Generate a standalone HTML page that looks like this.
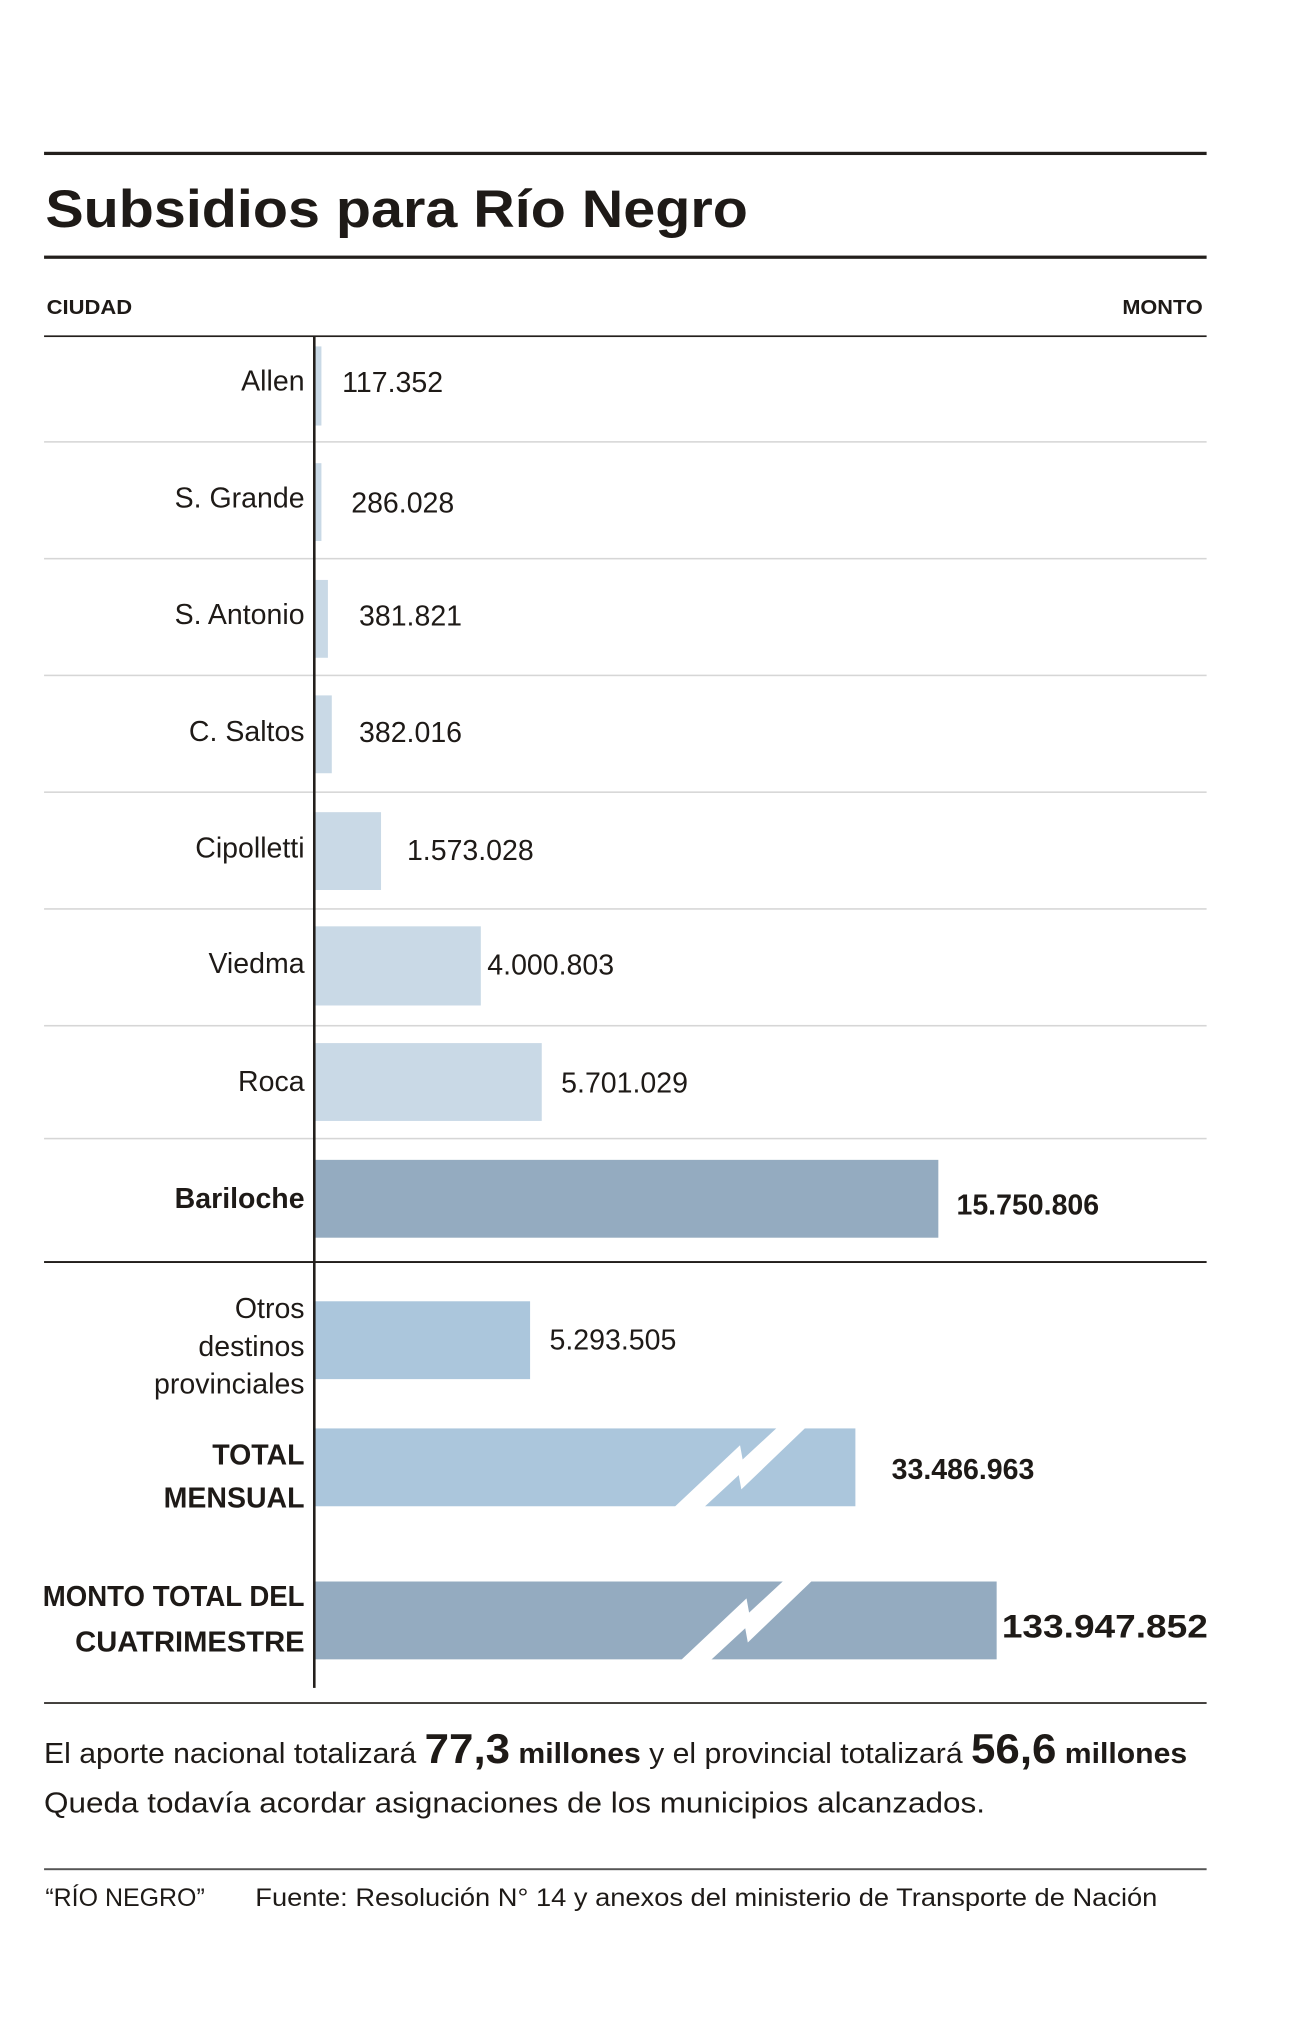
<!DOCTYPE html>
<html><head><meta charset="utf-8"><style>
html,body{margin:0;padding:0;background:#fff}
svg{display:block}
text{font-family:"Liberation Sans Narrow","Liberation Sans",sans-serif;fill:#1e1a17}
</style></head><body>
<svg width="1309" height="2033" viewBox="0 0 1010 1567" preserveAspectRatio="none">
<rect width="1024" height="1591" fill="#fff"/>
<rect x="34" y="117" width="897" height="2.5" fill="#231f1c"/>
<text x="35" y="175" font-size="41" font-weight="bold" textLength="542" lengthAdjust="spacingAndGlyphs">Subsidios para Río Negro</text>
<rect x="34" y="197" width="897" height="2.5" fill="#231f1c"/>
<text x="36" y="242" font-size="16" font-weight="bold" textLength="66" lengthAdjust="spacingAndGlyphs">CIUDAD</text>
<text x="928" y="242" font-size="16" font-weight="bold" text-anchor="end" textLength="62" lengthAdjust="spacingAndGlyphs">MONTO</text>
<rect x="34" y="258.5" width="897" height="1.3" fill="#231f1c"/>
<g fill="#d6d6d6">
<rect x="34" y="340" width="897" height="1.2"/><rect x="34" y="430" width="897" height="1.2"/>
<rect x="34" y="520" width="897" height="1.2"/><rect x="34" y="610" width="897" height="1.2"/>
<rect x="34" y="700" width="897" height="1.2"/><rect x="34" y="790" width="897" height="1.2"/>
<rect x="34" y="877" width="897" height="1.2"/>
</g>
<rect x="34" y="972" width="897" height="1.5" fill="#231f1c"/>
<g fill="#c9d9e6">
<rect x="243" y="267" width="5" height="61"/><rect x="243" y="357" width="5" height="60"/>
<rect x="243" y="447" width="10" height="60"/><rect x="243" y="536" width="13" height="60"/>
<rect x="243" y="626" width="51" height="60"/><rect x="243" y="714" width="128" height="61"/>
<rect x="243" y="804" width="175" height="60"/>
</g>
<rect x="243" y="894" width="481" height="60" fill="#94abc0"/>
<rect x="243" y="1003" width="166" height="60" fill="#abc6dc"/>
<rect x="243" y="1101" width="417" height="60" fill="#abc6dc"/>
<rect x="243" y="1219" width="526" height="60" fill="#94abc0"/>
<polygon points="520,1162 543,1162 570,1137 572,1148 622,1100 600,1100 573,1125 571,1114" fill="#fff"/>
<polygon points="525,1280 548,1280 575,1255 577,1266 627,1218 605,1218 578,1243 576,1232" fill="#fff"/>
<rect x="241.5" y="259" width="2" height="1042" fill="#231f1c"/>
<g font-size="22" text-anchor="end">
<text x="235" y="301">Allen</text>
<text x="235" y="391">S. Grande</text>
<text x="235" y="481">S. Antonio</text>
<text x="235" y="571">C. Saltos</text>
<text x="235" y="661">Cipolletti</text>
<text x="235" y="750">Viedma</text>
<text x="235" y="841">Roca</text>
<text x="235" y="931" font-weight="bold">Bariloche</text>
<text x="235" y="1016">Otros</text>
<text x="235" y="1045">destinos</text>
<text x="235" y="1074">provinciales</text>
<text x="235" y="1129" font-weight="bold">TOTAL</text>
<text x="235" y="1162" font-weight="bold">MENSUAL</text>
<text x="235" y="1238" font-weight="bold" textLength="202" lengthAdjust="spacingAndGlyphs">MONTO TOTAL DEL</text>
<text x="235" y="1273" font-weight="bold" textLength="177" lengthAdjust="spacingAndGlyphs">CUATRIMESTRE</text>
</g>
<g font-size="22">
<text x="264" y="302">117.352</text>
<text x="271" y="395">286.028</text>
<text x="277" y="482">381.821</text>
<text x="277" y="572">382.016</text>
<text x="314" y="663">1.573.028</text>
<text x="376" y="751">4.000.803</text>
<text x="433" y="842">5.701.029</text>
<text x="738" y="936" font-weight="bold">15.750.806</text>
<text x="424" y="1040">5.293.505</text>
<text x="688" y="1140" font-weight="bold">33.486.963</text>
<text x="773" y="1262" font-weight="bold" font-size="25" textLength="159" lengthAdjust="spacingAndGlyphs">133.947.852</text>
</g>
<rect x="34" y="1312" width="897" height="1.3" fill="#231f1c"/>
<text x="34" y="1359" font-size="22" textLength="882" lengthAdjust="spacingAndGlyphs">El aporte nacional totalizará <tspan font-weight="bold" font-size="32">77,3</tspan> <tspan font-weight="bold">millones</tspan>  y el provincial totalizará <tspan font-weight="bold" font-size="32">56,6</tspan> <tspan font-weight="bold">millones</tspan></text>
<text x="34" y="1397" font-size="22" textLength="726" lengthAdjust="spacingAndGlyphs">Queda todavía acordar asignaciones de los municipios alcanzados.</text>
<rect x="34" y="1440" width="897" height="1.5" fill="#555"/>
<text x="35" y="1469" font-size="19" textLength="123" lengthAdjust="spacingAndGlyphs">“RÍO NEGRO”</text>
<text x="197" y="1469" font-size="19" textLength="696" lengthAdjust="spacingAndGlyphs">Fuente: Resolución N° 14 y anexos del ministerio de Transporte de Nación</text>
</svg>
</body></html>
